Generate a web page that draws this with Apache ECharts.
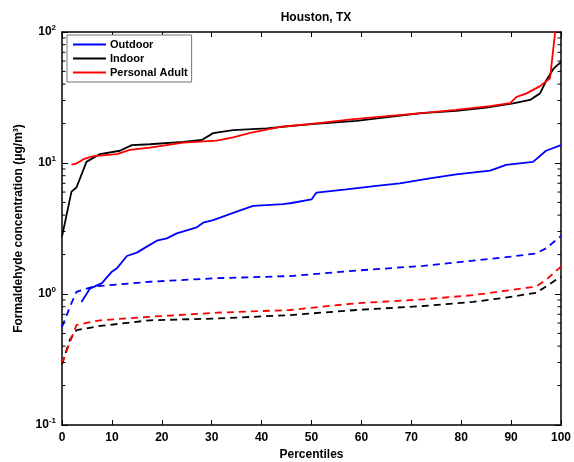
<!DOCTYPE html>
<html>
<head>
<meta charset="utf-8">
<script src="https://cdn.jsdelivr.net/npm/echarts@6/dist/echarts.min.js"></script>
<style>
  html, body { margin: 0; padding: 0; background: #fff; }
  #chart { width: 574px; height: 462px; }
</style>
</head>
<body>
<div id="chart"></div>
<script>
'use strict';

// percentile, concentration (ug/m3)
var outdoor = [[3.9,0.87],[5.6,1.10],[8,1.21],[10,1.48],[11,1.57],[13,1.95],[15,2.07],[17,2.3],[19,2.55],[21,2.66],[23,2.9],[27,3.23],[28.3,3.5],[30.3,3.67],[35,4.25],[38.3,4.7],[44.3,4.86],[46,4.95],[50,5.27],[51,5.95],[57,6.3],[63,6.7],[67.7,7.0],[73.7,7.64],[79,8.2],[85.8,8.74],[89,9.66],[94.4,10.2],[97,12.4],[100,13.7]];
var indoor = [[0,2.74],[1.9,6.04],[2.9,6.5],[4.9,10.2],[7.6,11.7],[11.6,12.4],[14,13.7],[17.6,13.9],[24.3,14.5],[28,15.0],[30.3,16.9],[34.3,17.8],[41,18.4],[45.7,19.1],[50,19.8],[59,21],[65.7,22.5],[72,24],[79,25],[85,26.5],[90.4,28.5],[93.8,30.3],[95.8,34],[97.1,43],[98.5,52.5],[100,59]];
var personal = [[1.9,9.7],[2.9,9.9],[4.3,10.7],[6.3,11.3],[11,11.7],[13.6,12.6],[17.6,13.1],[24.3,14.3],[31,14.8],[34.3,15.7],[37.7,17.0],[44.3,19.0],[50,19.9],[58,21.5],[65.7,22.9],[72,24],[79,25.4],[85.8,27.2],[89.8,28.6],[91.1,32],[93.1,34],[95.8,38.6],[97.8,44.3],[98.8,98],[99.2,130]];

// dashed curves
var outdoorDash = [[0,0.56],[1.6,0.8],[2.9,1.04],[6.3,1.14],[17.6,1.24],[31,1.32],[45.7,1.37],[59,1.51],[72.4,1.64],[82.4,1.80],[89,1.91],[95,2.04],[97,2.23],[100,2.77]];
var indoorDash = [[0,0.29],[1.6,0.45],[2.9,0.53],[7.6,0.57],[17.6,0.63],[31,0.65],[45.7,0.69],[59,0.755],[72.4,0.81],[82.4,0.87],[89,0.94],[95,1.02],[97,1.14],[100,1.36]];
var personalDash = [[0,0.296],[1.3,0.40],[2.9,0.58],[7.6,0.63],[17.6,0.67],[31,0.72],[45.7,0.755],[59,0.85],[72.4,0.91],[82.4,0.98],[89,1.06],[95,1.14],[97,1.28],[100,1.62]];

var legendNames = ['Outdoor', 'Indoor', 'Personal Adult'];
var decades = [0.1, 1, 10];
var minorSteps = [2, 3, 4, 5, 6, 7, 8, 9];

var minorTicks = [];
decades.forEach(function(d) {
    minorSteps.forEach(function(m) { minorTicks.push([0, d * m]); });
});

var FONT = '"Liberation Sans", Arial, sans-serif';

function solid(name, data, color) {
    return {
        name: name, type: 'line', data: data, showSymbol: false,
        lineStyle: { color: color, width: 1.8 }, itemStyle: { color: color },
        z: 3
    };
}
function dashed(name, data, color) {
    return {
        name: name, type: 'line', data: data, showSymbol: false,
        lineStyle: { color: color, width: 1.8, type: [7, 5] }, itemStyle: { color: color },
        z: 2
    };
}

var myChart = echarts.init(document.getElementById('chart'));

var sup = {
    b: { fontFamily: FONT, fontWeight: 'bold', fontSize: 12, color: '#000' },
    e: { fontFamily: FONT, fontWeight: 'bold', fontSize: 8, color: '#000', verticalAlign: 'bottom', padding: [0, 0, 8, 0] }
};

var boxLine = { show: true, onZero: false, lineStyle: { color: '#000', width: 1.5 } };

var option = {
    animation: false,
    backgroundColor: '#fff',
    title: {
        text: 'Houston, TX', left: 311, top: 7, textAlign: 'center',
        textStyle: { fontFamily: FONT, fontWeight: 'bold', fontSize: 12, color: '#000' }
    },
    legend: {
        data: legendNames, orient: 'vertical', left: 67, top: 35,
        backgroundColor: '#fff', borderColor: '#777', borderWidth: 1,
        padding: [4, 4, 4, 6], itemGap: 3,
        icon: 'rect', itemWidth: 33, itemHeight: 2,
        textStyle: { fontFamily: FONT, fontWeight: 'bold', fontSize: 11, color: '#000', padding: [0, 0, 0, -1] }
    },
    grid: { left: 62, right: 13, top: 32, bottom: 37, outerBoundsMode: 'none', containLabel: false },
    xAxis: [{
        type: 'value', min: 0, max: 100, interval: 10,
        name: 'Percentiles', nameLocation: 'middle', nameGap: 22,
        nameTextStyle: { fontFamily: FONT, fontWeight: 'bold', fontSize: 12, color: '#000' },
        axisLine: boxLine,
        axisTick: { inside: true, length: 5, lineStyle: { color: '#000' } },
        axisLabel: { fontFamily: FONT, fontWeight: 'bold', fontSize: 12, color: '#000', margin: 7 },
        splitLine: { show: false }
    }, {
        type: 'value', min: 0, max: 100, interval: 10, position: 'top',
        axisLine: boxLine,
        axisTick: { inside: true, length: 5, lineStyle: { color: '#000' } },
        axisLabel: { show: false }, splitLine: { show: false }
    }],
    yAxis: [{
        type: 'log', min: 0.1, max: 100, logBase: 10,
        name: 'Formaldehyde concentration (μg/m³)', nameLocation: 'middle', nameGap: 29,
        nameTextStyle: { fontFamily: FONT, fontWeight: 'bold', fontSize: 12, color: '#000' },
        axisLine: boxLine,
        axisTick: { inside: true, length: 6, lineStyle: { color: '#000' } },
        axisLabel: {
            margin: 6,
            formatter: function(v) {
                return '{b|10}{e|' + Math.round(Math.log10(v)) + '}';
            },
            rich: sup
        },
        splitLine: { show: false }
    }, {
        type: 'log', min: 0.1, max: 100, logBase: 10, position: 'right',
        axisLine: boxLine,
        axisTick: { inside: true, length: 6, lineStyle: { color: '#000' } },
        axisLabel: { show: false }, splitLine: { show: false }
    }],
    series: [
        solid('Outdoor', outdoor, '#0000ff'),
        solid('Indoor', indoor, '#000000'),
        solid('Personal Adult', personal, '#ff0000'),
        dashed('Outdoor dashed', outdoorDash, '#0000ff'),
        dashed('Indoor dashed', indoorDash, '#000000'),
        dashed('Personal Adult dashed', personalDash, '#ff0000'),
        {
            // minor log ticks on both y axes
            name: 'minor ticks', type: 'custom', data: minorTicks, silent: true, z: 5,
            renderItem: function(params, api) {
                var p = api.coord([0, api.value(1)]);
                var q = api.coord([100, api.value(1)]);
                return {
                    type: 'group',
                    children: [
                        { type: 'line', shape: { x1: p[0], y1: p[1], x2: p[0] + 3.5, y2: p[1] }, style: { stroke: '#000', lineWidth: 1 } },
                        { type: 'line', shape: { x1: q[0] - 3.5, y1: q[1], x2: q[0], y2: q[1] }, style: { stroke: '#000', lineWidth: 1 } }
                    ]
                };
            }
        }
    ]
};

myChart.setOption(option);
</script>
</body>
</html>
